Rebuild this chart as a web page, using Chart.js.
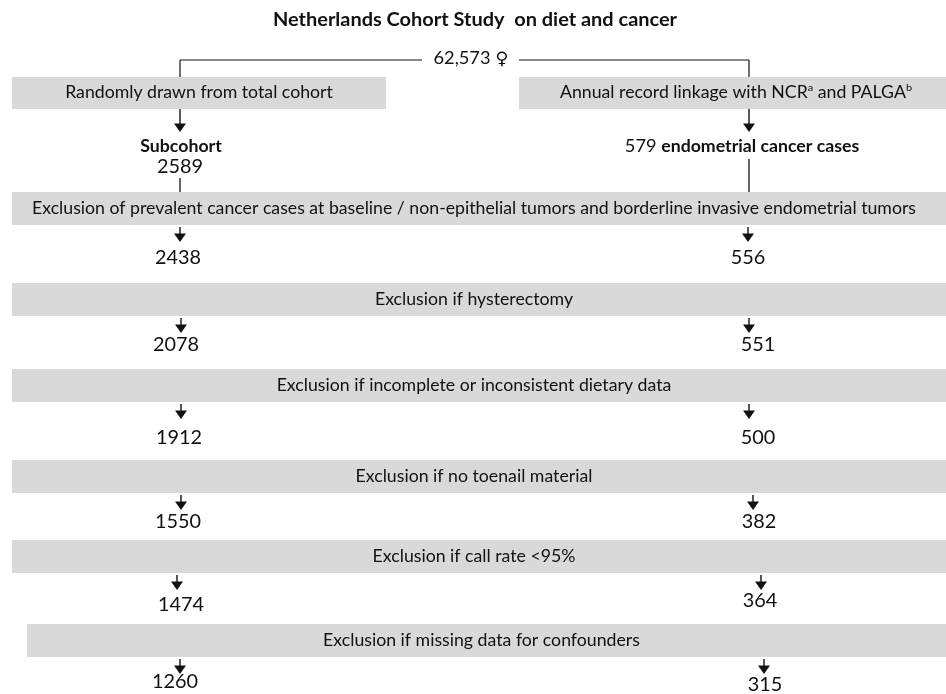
<!DOCTYPE html>
<html>
<head>
<meta charset="utf-8">
<script src="https://cdn.jsdelivr.net/npm/chart.js@4.4.1/dist/chart.umd.min.js"></script>
<style>
  html, body { margin: 0; padding: 0; background: #fff; }
  #flow { display: block; }
</style>
</head>
<body>
<canvas id="flow" width="946" height="694"></canvas>
<script>
// ---- data ----
const title = "Netherlands Cohort Study  on diet and cancer";
const totalCohort = "62,573";
const femaleSign = "\u2640";
const branchLabels = ["Randomly drawn from total cohort", "Annual record linkage with NCR|a| and PALGA|b|"];
const stepLabels = [
  "Exclusion of prevalent cancer cases at baseline / non-epithelial tumors and borderline invasive endometrial tumors",
  "Exclusion if hysterectomy",
  "Exclusion if incomplete or inconsistent dietary data",
  "Exclusion if no toenail material",
  "Exclusion if call rate <95%",
  "Exclusion if missing data for confounders"
];
const subcohortCounts = [2589, 2438, 2078, 1912, 1550, 1474, 1260];
const caseCounts = [579, 556, 551, 500, 382, 364, 315];

// ---- layout (pixel units of the hidden axes) ----
const rowYLeft = [167, 258, 345, 438, 522, 605, 682];
const rowYRight = [147, 258, 345, 438, 522, 601, 685];
const numXLeft = [180, 178, 176, 179, 178, 181, 175];
const numXRight = [795, 748, 758, 758, 759, 760, 765];
const arrowXLeft = [180, 180, 181, 181, 181, 177, 180];
const arrowXRight = [749, 748, 749, 749, 753, 761, 764];
const stepBoxes = [[12, 192, 225], [12, 283, 316], [12, 369, 402], [12, 460, 493], [12, 540, 573], [27, 624, 657]];

const GREY = "#d9d9d9";
const INK = "#111111";
const FONT = "Lato, 'Open Sans', sans-serif";
let squeeze = 1;

function setFont(ctx, size, bold, family) {
  ctx.font = (bold ? "bold " : "") + size + "px " + (family || FONT);
}

function text(ctx, str, x, y, size, bold, family) {
  setFont(ctx, size, bold, family);
  ctx.save();
  ctx.translate(x, y);
  ctx.scale(squeeze, 1);
  ctx.textAlign = "center";
  ctx.textBaseline = "middle";
  ctx.fillStyle = INK;
  ctx.fillText(str, 0, 0);
  ctx.restore();
}

// text with |x| parts as superscripts
function richText(ctx, str, x, y, size) {
  const parts = str.split("|").map((t, i) => ({ t, sup: i % 2 === 1 }));
  let total = 0;
  parts.forEach(p => {
    setFont(ctx, p.sup ? size * 0.62 : size, false);
    p.w = ctx.measureText(p.t).width * squeeze;
    total += p.w;
  });
  let cx = x - total / 2;
  parts.forEach(p => {
    setFont(ctx, p.sup ? size * 0.62 : size, false);
    ctx.save();
    ctx.translate(cx, p.sup ? y - size * 0.3 : y);
    ctx.scale(squeeze, 1);
    ctx.textAlign = "left";
    ctx.textBaseline = "middle";
    ctx.fillStyle = INK;
    ctx.fillText(p.t, 0, 0);
    ctx.restore();
    cx += p.w;
  });
}

function line(ctx, x1, y1, x2, y2) {
  ctx.beginPath();
  ctx.moveTo(x1, y1);
  ctx.lineTo(x2, y2);
  ctx.stroke();
}

function arrow(ctx, x, y1, y2) {
  ctx.lineWidth = 1.4;
  line(ctx, x, y1, x, y2 - 6);
  ctx.beginPath();
  ctx.moveTo(x - 6, y2 - 8.5);
  ctx.lineTo(x + 6, y2 - 8.5);
  ctx.lineTo(x, y2);
  ctx.closePath();
  ctx.fill();
}

const flowPlugin = {
  id: "flow",
  afterDatasetsDraw(chart) {
    const ctx = chart.ctx;
    const sx = v => chart.scales.x.getPixelForValue(v);
    const sy = v => chart.scales.y.getPixelForValue(v);
    setFont(ctx, 16.5, false);
    squeeze = 884 / ctx.measureText(stepLabels[0]).width;

    ctx.save();
    ctx.strokeStyle = INK;
    ctx.fillStyle = INK;

    text(ctx, title, sx(475), sy(20), 18.6, true);

    // top split
    ctx.lineWidth = 1.2;
    text(ctx, totalCohort, sx(462), sy(59), 17, false);
    text(ctx, femaleSign, sx(502), sy(60), 17, false, "'DejaVu Sans', sans-serif");
    line(ctx, sx(180), sy(60), sx(422), sy(60));
    line(ctx, sx(519), sy(60), sx(749), sy(60));
    line(ctx, sx(180), sy(60), sx(180), sy(77));
    line(ctx, sx(749), sy(60), sx(749), sy(77));

    // branch boxes
    ctx.fillStyle = GREY;
    ctx.fillRect(sx(12), sy(77), sx(386) - sx(12), sy(109) - sy(77));
    ctx.fillRect(sx(519), sy(77), sx(946) - sx(519), sy(109) - sy(77));
    ctx.fillStyle = INK;
    text(ctx, branchLabels[0], sx(199), sy(93), 16.5, false);
    richText(ctx, branchLabels[1], sx(736), sy(93), 16.5);
    arrow(ctx, sx(180), sy(109), sy(132));
    arrow(ctx, sx(749), sy(109), sy(132));

    // exclusion boxes
    stepBoxes.forEach((b, i) => {
      ctx.fillStyle = GREY;
      ctx.fillRect(sx(b[0]), sy(b[1]), sx(946) - sx(b[0]), sy(b[2]) - sy(b[1]));
      ctx.fillStyle = INK;
      text(ctx, stepLabels[i], sx((b[0] + 946) / 2 - 5), sy((b[1] + b[2]) / 2 + 0.5), 16.5, false);
      arrow(ctx, sx(arrowXLeft[i + 1]), sy(b[2] + 2), sy(b[2] + 17));
      arrow(ctx, sx(arrowXRight[i + 1]), sy(b[2] + 2), sy(b[2] + 17));
    });

    // connectors into first exclusion box
    ctx.lineWidth = 1.3;
    line(ctx, sx(180), sy(178), sx(180), sy(192));
    line(ctx, sx(749), sy(159), sx(749), sy(192));

    // subcohort heading
    text(ctx, "Subcohort", sx(181), sy(147), 16.5, true);

    // counts, placed by the datasets' points
    const left = chart.getDatasetMeta(0).data;
    const right = chart.getDatasetMeta(1).data;
    left.forEach((pt, i) => text(ctx, String(subcohortCounts[i]), pt.x, pt.y, 18.5, false));
    right.forEach((pt, i) => {
      if (i === 0) {
        // "579 endometrial cancer cases" with bold tail
        const a = String(caseCounts[0]) + " ";
        const b = "endometrial cancer cases";
        setFont(ctx, 17, false);
        const wa = ctx.measureText(a).width * squeeze;
        setFont(ctx, 16.5, true);
        const wb = ctx.measureText(b).width * squeeze;
        const x0 = pt.x - 53 - (wa + wb) / 2;
        text(ctx, a, x0 + wa / 2, pt.y, 17, false);
        text(ctx, b, x0 + wa + wb / 2, pt.y, 16.5, true);
      } else {
        text(ctx, String(caseCounts[i]), pt.x, pt.y, 18.5, false);
      }
    });
    ctx.restore();
  }
};

new Chart(document.getElementById("flow"), {
  type: "scatter",
  data: {
    datasets: [
      { label: "Subcohort", data: subcohortCounts.map((v, i) => ({ x: numXLeft[i], y: rowYLeft[i] })), pointRadius: 0 },
      { label: "Cases", data: caseCounts.map((v, i) => ({ x: numXRight[i], y: rowYRight[i] })), pointRadius: 0 }
    ]
  },
  options: {
    responsive: false,
    animation: false,
    layout: { padding: 0 },
    plugins: { legend: { display: false }, tooltip: { enabled: false } },
    scales: {
      x: { type: "linear", min: 0, max: 946, display: false },
      y: { type: "linear", min: 0, max: 694, reverse: true, display: false }
    }
  },
  plugins: [flowPlugin]
});
</script>
</body>
</html>
